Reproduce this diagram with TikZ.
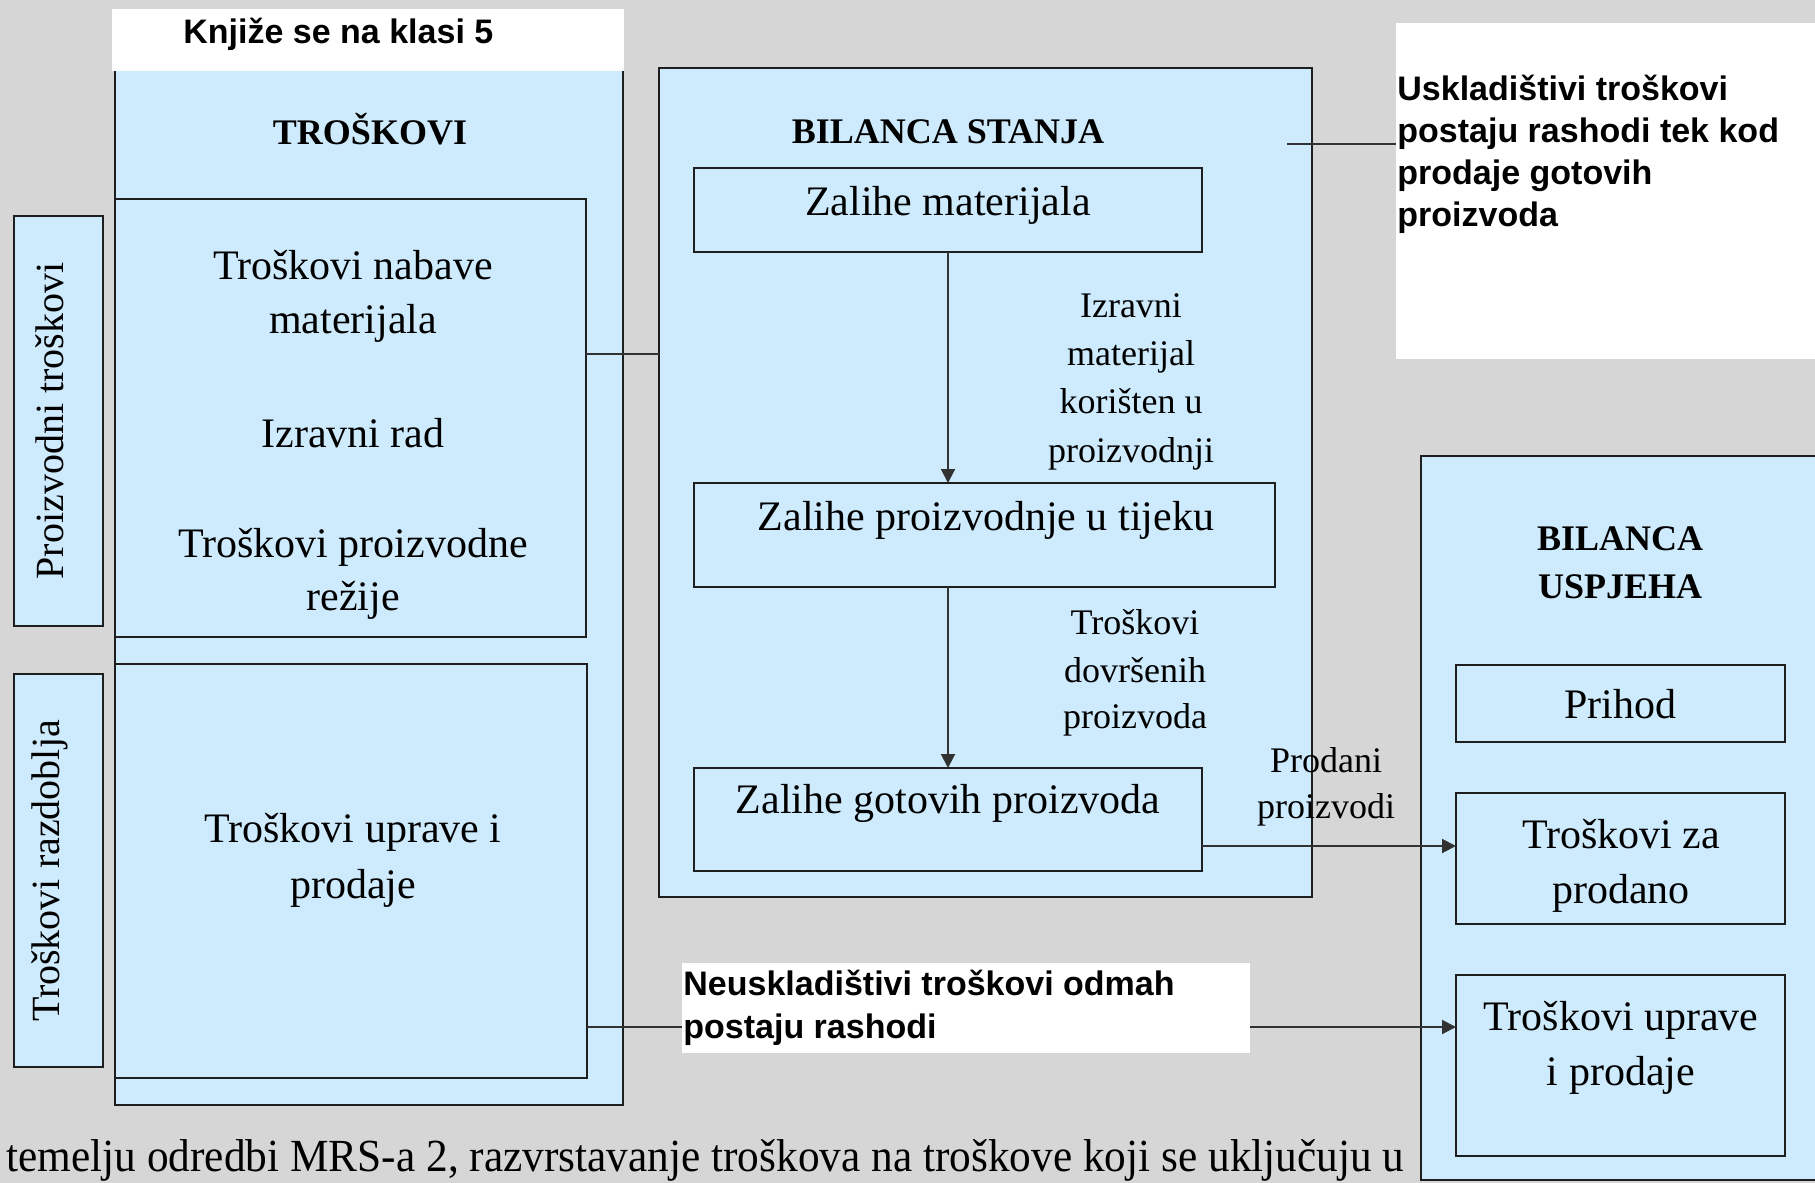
\documentclass[tikz,border=0pt]{standalone}
\usepackage{fontspec}
\usepackage{graphicx}
\setmainfont{Liberation Serif}
\newfontfamily\sansfam{Liberation Sans}
\usetikzlibrary{arrows.meta}
\definecolor{bg}{RGB}{214,214,214}
\definecolor{boxblue}{RGB}{206,235,253}
\definecolor{ln}{RGB}{30,30,30}
\definecolor{cln}{RGB}{50,50,50}
\newcommand\mkbox[6]{\node[#1, minimum width={(#5-#3)*0.5pt}, minimum height={(#6-#4)*0.5pt}] (#2) at ({(#3+#5)/2},{(#4+#6)/2}) {};}
\begin{document}
\begin{tikzpicture}[x=0.5pt,y=-0.5pt,
  box/.style={draw=ln, line width=1pt, fill=boxblue, inner sep=0pt, outer sep=0pt},
  wbox/.style={fill=white, draw=none, inner sep=0pt, outer sep=0pt},
  con/.style={draw=cln, line width=1pt},
  arr/.style={con, -{Triangle[length=7pt,width=7pt]}},
  body/.style={anchor=base, inner sep=0pt, font=\fontsize{21}{25}\selectfont},
  small/.style={anchor=base, inner sep=0pt, font=\fontsize{18}{22}\selectfont},
  head/.style={anchor=base, inner sep=0pt, font=\fontsize{18}{22}\selectfont\bfseries},
  note/.style={anchor=base west, inner sep=0pt, font=\sansfam\fontsize{17}{21}\selectfont\bfseries},
  side/.style={rotate=90, inner sep=0pt, font=\fontsize{20}{24}\selectfont},
]
\clip (0,0) rectangle (1815,1183);
\useasboundingbox (0,0) rectangle (1815,1183);
\fill[bg] (0,0) rectangle (1815,1183);

% boxes
\mkbox{box}{trosk}{115}{40}{623}{1105}
\mkbox{wbox}{knj}{112}{9}{624}{71}
\mkbox{box}{prod}{115}{199}{586}{637}
\mkbox{box}{razd}{115}{664}{587}{1078}
\mkbox{box}{lprod}{14}{216}{103}{626}
\mkbox{box}{lrazd}{14}{674}{103}{1067}
\mkbox{box}{bs}{659}{68}{1312}{897}
\mkbox{box}{zm}{694}{168}{1202}{252}
\mkbox{box}{zp}{694}{483}{1275}{587}
\mkbox{box}{zg}{694}{768}{1202}{871}
\mkbox{box}{bu}{1421}{456}{1840}{1180}
\mkbox{box}{prih}{1456}{665}{1785}{742}
\mkbox{box}{tzp}{1456}{793}{1785}{924}
\mkbox{box}{tup}{1456}{975}{1785}{1156}
\mkbox{wbox}{usk}{1396}{23}{1840}{359}
\mkbox{wbox}{neu}{682}{963}{1250}{1053}

% connectors
\coordinate (c1) at (0,354);
\draw[con] (prod.east |- c1) -- (bs.west |- c1);
\draw[arr] (zm.south) -- (zm.south |- zp.north);
\draw[arr] (zm.south |- zp.south) -- (zg.north);
\coordinate (c2) at (0,846);
\draw[arr] (zg.east |- c2) -- (tzp.west |- c2);
\coordinate (c3) at (0,1027);
\draw[con] (razd.east |- c3) -- (neu.west |- c3);
\draw[arr] (neu.east |- c3) -- (tup.west |- c3);
\coordinate (c4) at (1287,144);
\draw[con] (c4) -- (usk.west |- c4);

% texts
\node[note] (tknj) at (183,43) {Knjiže se na klasi 5};
\node[head] (ttr) at (370,144) {TROŠKOVI};
\node[body] (tp1) at (353,279) {Troškovi nabave};
\node[body] (tp2) at (353,333) {materijala};
\node[body] (tp3) at (353,447) {Izravni rad};
\node[body] (tp4) at (353,557) {Troškovi proizvodne};
\node[body] (tp5) at (353,610) {režije};
\node[body] (tr1) at (353,842) {Troškovi uprave i};
\node[body] (tr2) at (353,898) {prodaje};
\node[side] (tlp) at (50,421) {Proizvodni troškovi};
\node[side] (tlr) at (50,871) {Troškovi razdoblja};

\node[head] (tbs) at (948,143) {BILANCA STANJA};
\node[body] (tzm) at (948,215) {Zalihe materijala};
\node[small] (ti1) at (1131,317) {Izravni};
\node[small] (ti2) at (1131,365) {materijal};
\node[small] (ti3) at (1131,413) {korišten u};
\node[small] (ti4) at (1131,462) {proizvodnji};
\node[body] (tzp) at (986,530) {Zalihe proizvodnje u tijeku};
\node[small] (td1) at (1135,634) {Troškovi};
\node[small] (td2) at (1135,682) {dovršenih};
\node[small] (td3) at (1135,728) {proizvoda};
\node[body] (tzg) at (948,813) {Zalihe gotovih proizvoda};
\node[small] (tpr1) at (1326,772) {Prodani};
\node[small] (tpr2) at (1326,818) {proizvodi};

\node[note] (tu1) at (1397,100) {Uskladištivi troškovi};
\node[note] (tu2) at (1397,142) {postaju rashodi tek kod};
\node[note] (tu3) at (1397,184) {prodaje gotovih};
\node[note] (tu4) at (1397,226) {proizvoda};
\node[note] (tn1) at (683,995) {Neuskladištivi troškovi odmah};
\node[note] (tn2) at (683,1038) {postaju rashodi};

\node[head] (tbu1) at (1620,550) {BILANCA};
\node[head] (tbu2) at (1620,598) {USPJEHA};
\node[body] (tph) at (1620,718) {Prihod};
\node[body] (tz1) at (1621,848) {Troškovi za};
\node[body] (tz2) at (1621,903) {prodano};
\node[body] (tup1) at (1621,1030) {Troškovi uprave};
\node[body] (tup2) at (1621,1085) {i prodaje};

\node[anchor=base west, inner sep=0pt] (tbot) at (6,1171) {\resizebox{699pt}{\height}{\fontsize{23}{27}\selectfont temelju odredbi MRS-a 2, razvrstavanje troškova na troškove koji se uključuju u}};
\end{tikzpicture}
\end{document}
